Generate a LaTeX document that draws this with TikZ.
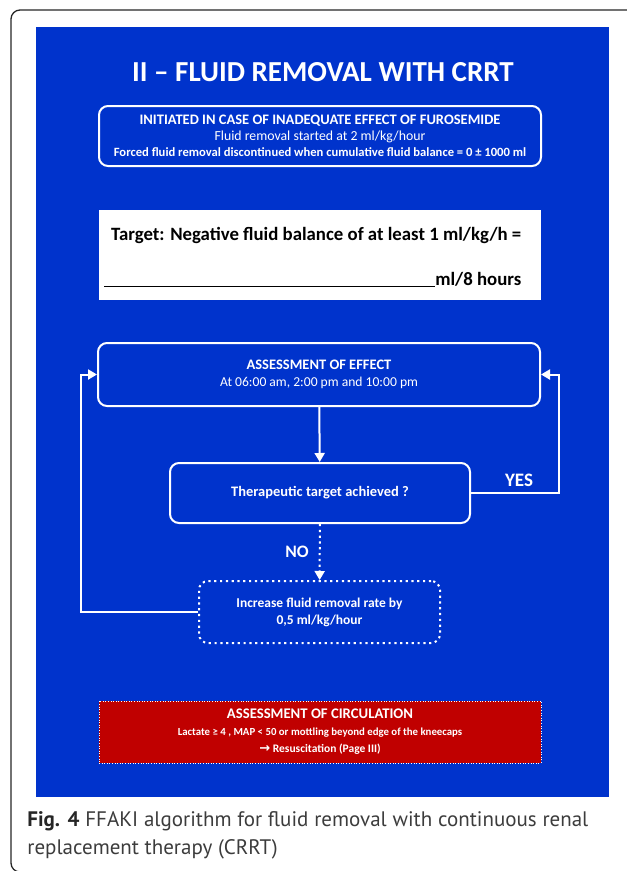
\documentclass[tikz,border=0pt]{standalone}
\usepackage{fontspec}
\setmainfont{Carlito}
\newfontfamily\symfont{DejaVu Sans}
\newfontfamily\capfont{PT Sans}
\usepackage{tikz}
\usetikzlibrary{
  arrows.meta,
  positioning
}
\definecolor{ffblue}{RGB}{0,51,204}
\definecolor{ffred}{RGB}{192,0,0}
\definecolor{capgray}{RGB}{60,60,60}
\tikzset{
  every picture/.style={line width=0.75pt},
  stepbox/.style={draw=white, line width=2pt, rounded corners=9pt, text=white,
    align=center, inner sep=0pt},
  dotbox/.style={stepbox, dash pattern=on 2.2pt off 3.6pt},
  alertbox/.style={draw=white, fill=ffred, line width=1pt, dash pattern=on 1pt off 1.6pt,
    text=white, align=center, inner sep=0pt},
  flowarrow/.style={draw=white, line width=2pt, -{Triangle[length=9pt,width=10pt]}},
  answer/.style={text=white, font=\bfseries}
}

\begin{document}
\begin{tikzpicture}[x=1pt, y=-1pt]
\useasboundingbox (0,0) rectangle (627,871);
% frame and background
\draw[line width=1.3pt, draw=black!85, rounded corners=9pt] (700,872) -- (11,872) -- (11,10) -- (700,10);
\fill[ffblue] (36,27) rectangle (609,797);

% title
\node[text=white, font=\bfseries\fontsize{29}{34}\selectfont] (title) at (323,72) {II – FLUID REMOVAL WITH CRRT};

% start
\node[stepbox, minimum width=442pt, minimum height=60pt, font=\fontsize{12}{16}\selectfont] (start) at (320,136)
  {\fontsize{14.5}{16}\selectfont\textbf{INITIATED IN CASE OF INADEQUATE EFFECT OF FUROSEMIDE}\\
   \fontsize{13.8}{16}\selectfont Fluid removal started at 2 ml/kg/hour\\
   \fontsize{12.6}{16}\selectfont\textbf{Forced fluid removal discontinued when cumulative fluid balance = 0 ± 1000 ml}};

% target
\node[fill=white, minimum width=442pt, minimum height=90pt, inner sep=0pt] (target) at (320,255) {};
\node[anchor=east, font=\bfseries\fontsize{18.8}{23}\selectfont] (targetA) at (525,235) {Target: Negative fluid balance of at least 1 ml/kg/h =};
\node[anchor=east, font=\bfseries\fontsize{18.8}{23}\selectfont] (targetB) at (525,280) {\rule[-1.5pt]{331pt}{1.3pt}ml/8 hours};

% loop
\node[stepbox, minimum width=442pt, minimum height=63pt, font=\fontsize{13}{17}\selectfont] (assess) at (319,374.5)
  {\fontsize{14.5}{17}\selectfont\textbf{ASSESSMENT OF EFFECT}\\
   \fontsize{13.6}{17}\selectfont At 06:00 am, 2:00 pm and 10:00 pm};
\node[stepbox, minimum width=300pt, minimum height=60pt, font=\bfseries\fontsize{14.5}{17}\selectfont] (check) at (320,493)
  {Therapeutic target achieved ?};
\node[dotbox, minimum width=241pt, minimum height=62pt, font=\bfseries\fontsize{13.5}{17}\selectfont] (increase) at (319.5,612)
  {Increase fluid removal rate by\\ 0,5 ml/kg/hour};
\node[answer, font=\bfseries\fontsize{19}{20}\selectfont] (yes) at (519,480) {YES};
\node[answer, font=\bfseries\fontsize{17.5}{20}\selectfont] (no) at (297,552) {NO};

\coordinate (yesc) at (559,493);
\coordinate (backc) at (81,612);
\draw[flowarrow] (assess) -- (check);
\draw[flowarrow] (check.east) -- (yesc) |- (assess.east);
\draw[flowarrow, dash pattern=on 2.2pt off 3.6pt] (check) -- (increase);
\draw[flowarrow] (increase.west) -- (backc) |- (assess.west);

% circulation
\node[alertbox, minimum width=442pt, minimum height=62pt, font=\bfseries\fontsize{12}{17}\selectfont] (circ) at (320,732)
  {\fontsize{14.7}{17}\selectfont ASSESSMENT OF CIRCULATION\\
   \fontsize{10.8}{17}\selectfont Lactate ≥ 4 , MAP < 50 or mottling beyond edge of the kneecaps\\
   {\symfont\bfseries\fontsize{13}{17}\selectfont →} \fontsize{11.5}{17}\selectfont Resuscitation (Page III)};

% caption
\node[anchor=north west, text width=561pt, align=justify, inner sep=0pt, text=capgray,
  font=\capfont\fontsize{21}{28}\selectfont] (caption) at (27,811)
  {{\bfseries\color{black!85}Fig. 4} FFAKI algorithm for fluid removal with continuous renal\linebreak
   replacement therapy (CRRT)};
\end{tikzpicture}
\end{document}
